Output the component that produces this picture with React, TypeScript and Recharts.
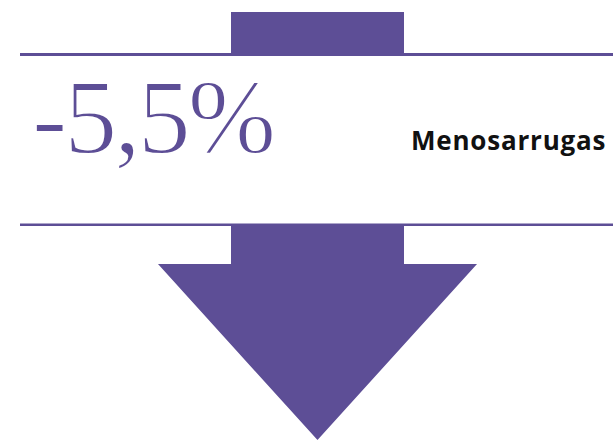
import React from "react";
import { BarChart, Bar, XAxis, YAxis } from "recharts";

const categories = ["Menosarrugas"];
const values = [-5.5];
const data = categories.map((name, i) => ({ name, value: values[i] }));

const W = 613;
const H = 441;
const PURPLE = "#5d4e96";

// arrow drawn inside the bar's own box
const ArrowShape = (props: any) => {
  const { x, y, width, height } = props;
  const top = Math.min(y, y + height);
  const bottom = Math.max(y, y + height);
  const cx = x + width / 2;
  const headHalf = (width * 1.844) / 2;
  const headTop = top + (bottom - top) * 0.589;
  const d = `M${x},${top} L${x + width},${top} L${x + width},${headTop} L${cx + headHalf},${headTop} L${cx},${bottom} L${cx - headHalf},${headTop} L${x},${headTop} Z`;
  return (
    <g>
      <path d={d} fill={PURPLE} />
      <rect x={0} y={56} width={W} height={168} fill="#fff" />
      <rect x={20} y={53} width={W - 20} height={3} fill={PURPLE} />
      <rect x={20} y={223.5} width={W - 20} height={2.5} fill={PURPLE} />
    </g>
  );
};

const Labels = (props: any) => {
  const { value, index } = props;
  const txt = String(value).replace(".", ",") + "%";
  return (
    <g>
      <text
        x={32}
        y={153}
        fontFamily="'Liberation Serif', serif"
        fontSize={106}
        letterSpacing={-3}
        fill={PURPLE}
        stroke="#fff"
        strokeWidth={1.8}
      >
        {txt}
      </text>
      <text
        x={411}
        y={150}
        fontFamily="'Open Sans', sans-serif"
        fontWeight={700}
        fontSize={26}
        letterSpacing={0.8}
        fill="#111"
      >
        {categories[index]}
      </text>
    </g>
  );
};

export default function App() {
  return (
    <div style={{ position: "absolute", left: 0, top: 0, background: "#fff" }}>
      <BarChart
        width={W}
        height={H}
        data={data}
        margin={{ top: 12, right: 0, bottom: 1, left: 22 }}
        barSize={173}
      >
        <XAxis dataKey="name" hide />
        <YAxis hide domain={[Math.min(...values), 0]} />
        <Bar
          dataKey="value"
          shape={ArrowShape}
          label={Labels}
          isAnimationActive={false}
        />
      </BarChart>
    </div>
  );
}
